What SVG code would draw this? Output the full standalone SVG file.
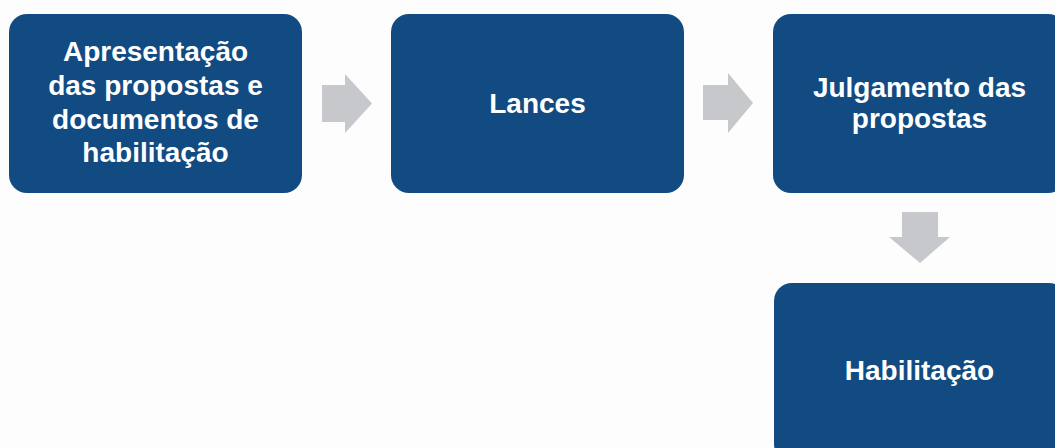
<svg xmlns="http://www.w3.org/2000/svg" width="1055" height="448" viewBox="0 0 1055 448">
  <style>
    .box { fill: #124b82; }
    .lbl { fill: #ffffff; font-family: "Liberation Sans", Arial, sans-serif; font-weight: bold; font-size: 28px; text-anchor: middle; }
    .arrow { fill: #c6c8cc; }
  </style>
  <rect width="1055" height="448" fill="#fdfdfd"/>
  <g id="connectors">
    <polygon class="arrow" points="322,85 345,85 345,74 372,103.5 345,133 345,122 322,122"/>
    <polygon class="arrow" points="703,85 728,85 728,73 753,103 728,133 728,120 703,120"/>
    <polygon class="arrow" points="902,212 938,212 938,237 950,237 920,263 889,237 902,237"/>
  </g>
  <g id="node-apresentacao">
    <rect class="box" x="9" y="14" width="293" height="179" rx="18"/>
    <text class="lbl" x="155.5" y="61">Apresentação</text>
    <text class="lbl" x="155.5" y="95">das propostas e</text>
    <text class="lbl" x="155.5" y="128.5">documentos de</text>
    <text class="lbl" x="155.5" y="162">habilitação</text>
  </g>
  <g id="node-lances">
    <rect class="box" x="391" y="14" width="293" height="179" rx="18"/>
    <text class="lbl" x="537.5" y="113">Lances</text>
  </g>
  <g id="node-julgamento">
    <rect class="box" x="773" y="14" width="293" height="179" rx="18"/>
    <text class="lbl" x="919.5" y="97">Julgamento das</text>
    <text class="lbl" x="919.5" y="128">propostas</text>
  </g>
  <g id="node-habilitacao">
    <rect class="box" x="774" y="283" width="293" height="179" rx="18"/>
    <text class="lbl" x="919.5" y="380">Habilitação</text>
  </g>
</svg>
